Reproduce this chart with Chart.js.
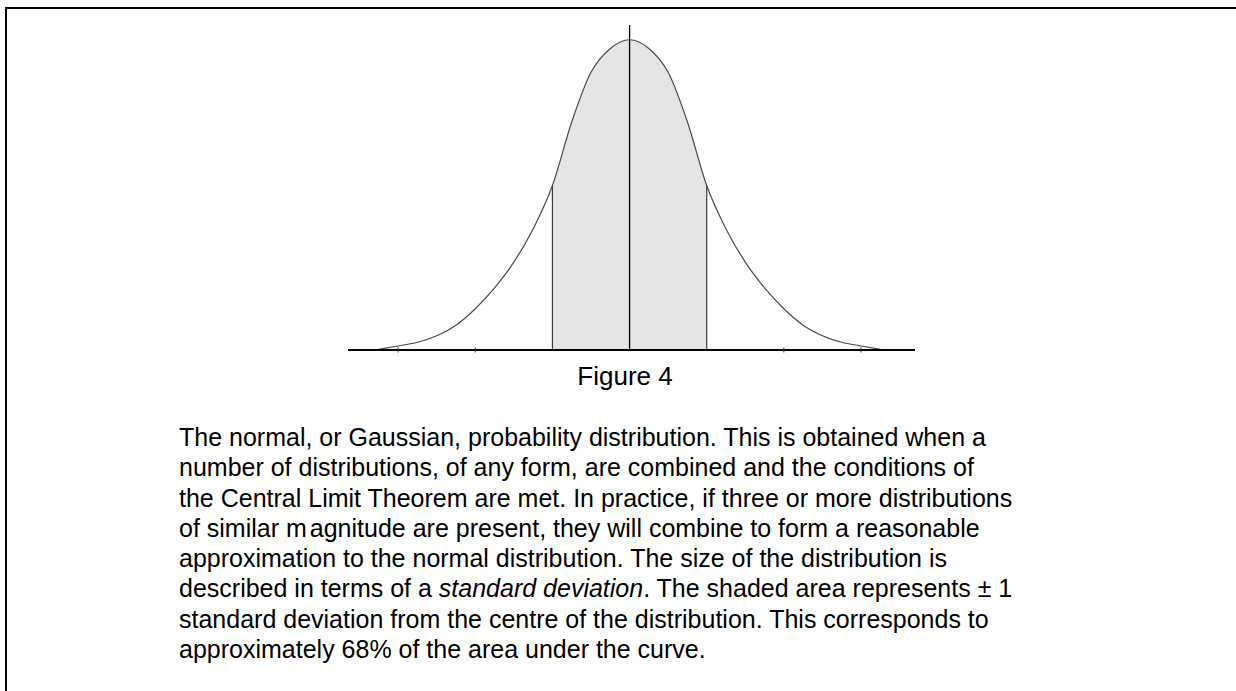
<!DOCTYPE html>
<html lang="en">
<head>
  <meta charset="UTF-8">
  <title>Figure 4 — The normal distribution</title>
  <script src="https://cdn.jsdelivr.net/npm/chart.js@4.4.6/dist/chart.umd.min.js"></script>
  <style>
    *, *::before, *::after { box-sizing: border-box; margin: 0; padding: 0; }
    html, body { width: 1236px; height: 691px; overflow: hidden; background: #fff; }
    body { position: relative; font-family: "Liberation Sans", Arial, sans-serif; color: #000; }
    .rule { position: absolute; background: #000; }
    .rule.top  { left: 5px; top: 7px; width: 1231px; height: 2px; }
    .rule.left { left: 5px; top: 7px; width: 2px; height: 684px; }
    .chart-wrap { position: absolute; left: 343px; top: 20px; width: 577px; height: 335px; }
    canvas { display: block; }
    .caption {
      position: absolute;
      left: 525px; top: 361px; width: 200px;
      text-align: center;
      font-size: 26px; line-height: 30px;
    }
    .text {
      position: absolute;
      left: 179px; top: 422px;
      font-size: 25px; line-height: 30.3px;
      white-space: nowrap;
    }
    .gap { letter-spacing: 3px; }
  </style>
</head>
<body>
<div class="rule top"></div>
<div class="rule left"></div>

<div class="chart-wrap">
  <canvas id="chart" width="577" height="335"></canvas>
</div>

<div class="caption">Figure 4</div>

<div class="text">
  The normal, or Gaussian, probability distribution. This is obtained when a<br>
  number of distributions, of any form, are combined and the conditions of<br>
  the Central Limit Theorem are met. In practice, if three or more distributions<br>
  of similar <span class="gap">m</span>agnitude are present, they will combine to form a reasonable<br>
  approximation to the normal distribution. The size of the distribution is<br>
  described in terms of a <i>standard deviation</i>. The shaded area represents ± 1<br>
  standard deviation from the centre of the distribution. This corresponds to<br>
  approximately 68% of the area under the curve.
</div>

<script>
// ── Data (x in standard deviations, y as a fraction of the peak) ────────────

const curveX = [-3.3, -3.0, -2.75, -2.5, -2.25, -2.0, -1.75, -1.5, -1.25, -1.0,
                -0.75, -0.5, -0.25, 0, 0.25, 0.5, 0.75, 1.0, 1.25, 1.5,
                1.75, 2.0, 2.25, 2.5, 2.75, 3.0, 3.3];
const curveY = [0, 0.013, 0.025, 0.046, 0.08, 0.133, 0.2, 0.283, 0.39, 0.53,
                0.735, 0.895, 0.972, 1.0, 0.972, 0.895, 0.735, 0.53, 0.39, 0.283,
                0.2, 0.133, 0.08, 0.046, 0.025, 0.013, 0];

const baselineX = [-3.65, 3.7];
const tickX     = [-3, -2, 2, 3];
const sigmaX    = [-1, 1];
const centreTop = 1.0475;

// ── Build series ────────────────────────────────────────────────────────────

const curve  = curveX.map((x, i) => ({ x, y: curveY[i] }));
const shaded = curve.filter(p => p.x >= sigmaX[0] && p.x <= sigmaX[1]);
const sigmaTop = x => curveY[curveX.indexOf(x)];

const lineDefaults = { pointRadius: 0, clip: false, fill: false, tension: 0 };
const smooth = { cubicInterpolationMode: 'monotone' };

new Chart(document.getElementById('chart'), {
  type: 'line',
  data: {
    datasets: [
      // shaded ±1σ area
      { ...lineDefaults, ...smooth, data: shaded, borderWidth: 0,
        backgroundColor: '#e5e5e5', fill: 'origin', order: 5 },
      // the curve itself
      { ...lineDefaults, ...smooth, data: curve, borderColor: '#4a4a4a',
        borderWidth: 1.2, order: 4 },
      // ±1σ lines
      ...sigmaX.map(x => ({ ...lineDefaults, data: [{ x, y: 0 }, { x, y: sigmaTop(x) }],
        borderColor: '#3c3c3c', borderWidth: 1.2, order: 3 })),
      // centre line
      { ...lineDefaults, data: [{ x: 0, y: 0 }, { x: 0, y: centreTop }],
        borderColor: '#000', borderWidth: 1.3, order: 2 },
      // baseline
      { ...lineDefaults, data: baselineX.map(x => ({ x, y: 0 })),
        borderColor: '#000', borderWidth: 2.2, order: 1 },
      // tick marks on the baseline
      { type: 'scatter', data: tickX.map(x => ({ x, y: 0 })), clip: false,
        pointStyle: 'line', rotation: 90, pointRadius: 2.5,
        pointBorderColor: '#333', pointBorderWidth: 1, order: 0 },
    ],
  },
  options: {
    responsive: false,
    animation: false,
    events: [],
    layout: { padding: { top: 0, bottom: 4, left: 0, right: 0 } },
    plugins: { legend: { display: false }, tooltip: { enabled: false } },
    scales: {
      x: { type: 'linear', min: baselineX[0], max: baselineX[1], display: false },
      y: { min: 0, max: centreTop, display: false },
    },
  },
});
</script>
</body>
</html>
